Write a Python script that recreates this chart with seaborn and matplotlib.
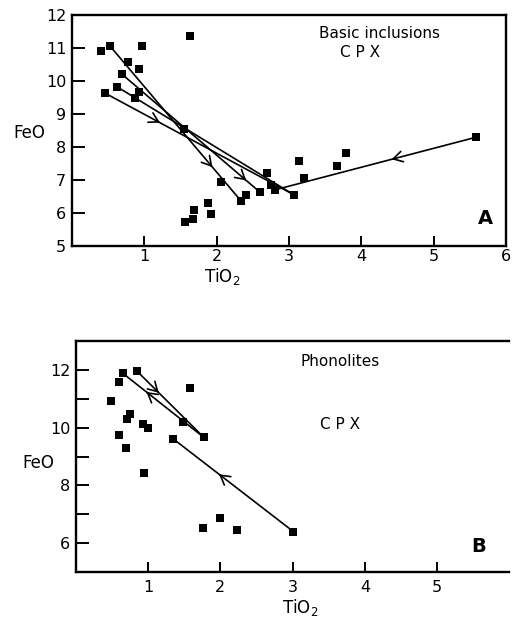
import matplotlib
matplotlib.use('Agg')
import matplotlib.pyplot as plt
import seaborn as sns
import pandas as pd

# ---------------- Panel A : Basic inclusions ----------------
tio2_a = [0.40, 0.53, 0.97, 1.63, 0.77, 0.93, 0.69, 0.62, 0.93, 0.87, 0.46, 1.55,
          5.59, 3.79, 3.66, 3.14, 3.21, 2.69, 2.75, 2.80, 3.07, 2.60, 2.40, 2.34,
          2.06, 1.88, 1.92, 1.69, 1.67, 1.56]
feo_a = [10.91, 11.05, 11.07, 11.35, 10.57, 10.35, 10.21, 9.83, 9.67, 9.48, 9.63, 8.55,
         8.30, 7.83, 7.42, 7.58, 7.05, 7.20, 6.85, 6.70, 6.55, 6.63, 6.55, 6.36,
         6.95, 6.29, 5.96, 6.09, 5.82, 5.74]

# trend segments (start -> end), arrow position (fraction along) and direction
seg_a_x0 = [0.53, 0.69, 0.62, 0.46, 5.59]
seg_a_y0 = [11.05, 10.21, 9.83, 9.63, 8.30]
seg_a_x1 = [2.34, 2.60, 3.07, 3.07, 2.80]
seg_a_y1 = [6.36, 6.63, 6.55, 6.55, 6.70]
arrow_a_t = [0.78, 0.90, None, 0.29, 0.42]
arrow_a_dir = [1, 1, 0, 1, 1]

xticks_a = [1, 2, 3, 4, 5, 6]
yticks_a = [5, 6, 7, 8, 9, 10, 11, 12]

# ---------------- Panel B : Phonolites ----------------
tio2_b = [0.48, 0.59, 0.65, 0.84, 1.58, 0.75, 0.70, 0.59, 0.69, 0.93, 1.00, 1.35,
          1.48, 1.77, 0.94, 3.01, 1.76, 1.99, 2.23]
feo_b = [10.94, 11.60, 11.89, 11.98, 11.37, 10.48, 10.30, 9.75, 9.30, 10.13, 9.98, 9.61,
         10.21, 9.67, 8.43, 6.40, 6.52, 6.87, 6.46]

seg_b_x0 = [0.65, 0.84, 1.35]
seg_b_y0 = [11.89, 11.98, 9.61]
seg_b_x1 = [1.77, 1.77, 3.01]
seg_b_y1 = [9.67, 9.67, 6.40]
arrow_b_t = [0.29, 0.33, 0.38]
arrow_b_dir = [-1, 1, -1]

xticks_b = [1, 2, 3, 4, 5]
yticks_b = [6, 7, 8, 9, 10, 11, 12]
ytick_labels_b = ['6', '', '8', '', '10', '', '12']

sns.set_style('ticks')
plt.rcParams['font.family'] = ['DejaVu Sans']
plt.rcParams['text.color'] = 'black'
plt.rcParams['axes.labelcolor'] = 'black'

fig = plt.figure(figsize=(5.17, 6.23), dpi=100)
axA = fig.add_axes([0.139, 0.605, 0.840, 0.371])
axB = fig.add_axes([0.147, 0.082, 0.838, 0.370])


def draw_segments(ax, x0, y0, x1, y1, ts, dirs):
    rows = []
    for i in range(len(x0)):
        rows.append({'x': x0[i], 'y': y0[i], 'seg': i})
        rows.append({'x': x1[i], 'y': y1[i], 'seg': i})
    df = pd.DataFrame(rows)
    sns.lineplot(data=df, x='x', y='y', units='seg', estimator=None, sort=False,
                 color='black', lw=1.2, ax=ax, zorder=2)
    for i in range(len(x0)):
        if ts[i] is None:
            continue
        dx = x1[i] - x0[i]
        dy = y1[i] - y0[i]
        px = x0[i] + ts[i] * dx
        py = y0[i] + ts[i] * dy
        d = dirs[i]
        ax.annotate('', xy=(px, py), xytext=(px - d * dx * 0.01, py - d * dy * 0.01),
                    arrowprops=dict(arrowstyle='->,head_length=0.55,head_width=0.32',
                                    color='black', lw=1.2, mutation_scale=12,
                                    shrinkA=0, shrinkB=0), zorder=3)


def style_axes(ax):
    for s in ax.spines.values():
        s.set_linewidth(1.7)
        s.set_color('black')
    ax.tick_params(direction='in', width=1.4, colors='black', labelsize=11.5)
    ax.set_xlabel('')
    ax.set_ylabel('')


# Panel A
draw_segments(axA, seg_a_x0, seg_a_y0, seg_a_x1, seg_a_y1, arrow_a_t, arrow_a_dir)
sns.scatterplot(x=tio2_a, y=feo_a, marker='s', color='black', s=40, linewidth=0,
                ax=axA, zorder=4)
axA.set_xlim(0, 6)
axA.set_ylim(5, 12)
axA.set_xticks(xticks_a)
axA.set_xticklabels([str(v) for v in xticks_a])
axA.set_yticks(yticks_a)
axA.set_yticklabels([str(v) for v in yticks_a])
style_axes(axA)
axA.tick_params(axis='y', length=9, pad=4)
axA.tick_params(axis='x', length=7, pad=2)
axA.text(4.25, 11.45, 'Basic inclusions', fontsize=11, ha='center', va='center')
axA.text(3.98, 10.85, 'C P X', fontsize=11, ha='center', va='center')
axA.text(5.71, 5.85, 'A', fontsize=14, fontweight='bold', ha='center', va='center')
axA.text(-0.097, 0.489, 'FeO', fontsize=12, ha='center', va='center', transform=axA.transAxes)
axA.text(0.346, -0.13, 'TiO$_2$', fontsize=12, ha='center', va='center', transform=axA.transAxes)

# Panel B
draw_segments(axB, seg_b_x0, seg_b_y0, seg_b_x1, seg_b_y1, arrow_b_t, arrow_b_dir)
sns.scatterplot(x=tio2_b, y=feo_b, marker='s', color='black', s=40, linewidth=0,
                ax=axB, zorder=4)
axB.set_xlim(0, 6)
axB.set_ylim(5, 13)
axB.set_xticks(xticks_b)
axB.set_xticklabels([str(v) for v in xticks_b])
axB.set_yticks(yticks_b)
axB.set_yticklabels(ytick_labels_b)
style_axes(axB)
axB.spines['right'].set_visible(False)
axB.tick_params(axis='y', length=9, pad=4)
axB.tick_params(axis='x', length=7, pad=6)
axB.text(3.66, 12.31, 'Phonolites', fontsize=11, ha='center', va='center')
axB.text(3.66, 10.13, 'C P X', fontsize=11, ha='center', va='center')
axB.text(5.57, 5.87, 'B', fontsize=14, fontweight='bold', ha='center', va='center')
axB.text(-0.088, 0.473, 'FeO', fontsize=12, ha='center', va='center', transform=axB.transAxes)
axB.text(0.517, -0.153, 'TiO$_2$', fontsize=12, ha='center', va='center', transform=axB.transAxes)

fig.savefig('out.png', dpi=100)
